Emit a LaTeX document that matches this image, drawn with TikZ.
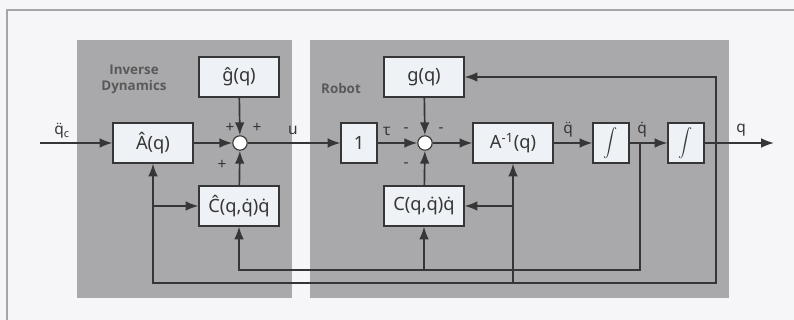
\documentclass[tikz,border=0pt]{standalone}
\usepackage{fontspec}
\setsansfont{Noto Sans}
\newfontfamily\lblfont{Open Sans}
\usetikzlibrary{positioning,arrows.meta,calc}

\definecolor{panelgray}{HTML}{A9A9AB}
\definecolor{boxfill}{HTML}{EEF2F6}
\definecolor{linegray}{HTML}{363636}
\definecolor{pagebg}{HTML}{F6F6F8}

\begin{document}
\begin{tikzpicture}[
  x=0.025cm, y=-0.025cm,
  font=\sffamily\fontsize{13}{15}\selectfont,
  every node/.style={align=center, text=linegray},
  blk/.style ={rectangle, draw=linegray, line width=0.8pt, fill=boxfill,
               minimum width=20mm, minimum height=10mm, inner sep=1pt},
  intg/.style={blk, minimum width=9mm},
  sumc/.style={circle, draw=linegray, line width=0.8pt, fill=white,
               minimum size=3.6mm, inner sep=0pt},
  panel/.style={fill=panelgray, draw=none},
  sgn/.style ={inner sep=0pt, font=\sffamily\fontsize{11}{12}\selectfont},
  lbl/.style ={inner sep=0pt, font=\lblfont\bfseries\fontsize{9.5}{11.5}\selectfont, text=black!65},
  arrow/.style={-{Latex[length=3.2mm,width=2.4mm]}, line width=1.2pt, draw=linegray},
]

% page and frame
\fill[pagebg] (0,0) rectangle (794,320);
\useasboundingbox (0,0) rectangle (794,320);
\draw[gray!70, line width=0.8pt] (7,320) -- (7,10) -- (794,10);

% grey panels
\fill[panel] (77,40)  rectangle (292,298);
\fill[panel] (310,40) rectangle (729,298);

% Inverse dynamics blocks
\node[blk]  (ghat) at (239,77)  {ĝ(q)};
\node[blk]  (Ahat) at (153,143) {Â(q)};
\node[sumc] (s1)   at (240,143) {};
\node[blk]  (Chat) at (239,206) {Ĉ(q,\.q)\.q};

% Robot blocks
\node[blk]  (g)    at (424,77)  {g(q)};
\node[intg] (one)  at (359,143) {1};
\node[sumc] (s2)   at (425,143) {};
\node[blk]  (Ainv) at (513,143) {A\textsuperscript{-1}(q)};
\node[blk]  (C)    at (424,206) {C(q,\.q)\.q};
\node[intg] (i1)   at (611,143) {$\displaystyle\int$};
\node[intg] (i2)   at (686,143) {$\displaystyle\int$};

% free ends and branch points
\coordinate (in)   at (40,143);
\coordinate (out)  at (774,143);
\coordinate (jq)   at (716,143);
\coordinate (jqd)  at (640,143);
\coordinate (qlo)  at (716,283);
\coordinate (qdlo) at (640,270);

% forward path
\draw[arrow] (in)   -- (Ahat);
\draw[arrow] (Ahat) -- (s1);
\draw[arrow] (ghat) -- (s1);
\draw[arrow] (Chat) -- (s1);
\draw[arrow] (s1)   -- (one);
\draw[arrow] (one)  -- (s2);
\draw[arrow] (g)    -- (s2);
\draw[arrow] (C)    -- (s2);
\draw[arrow] (s2)   -- (Ainv);
\draw[arrow] (Ainv) -- (i1);
\draw[arrow] (i1)   -- (i2);
\draw[arrow] (i2)   -- (out);

% feedback of q
\draw[arrow] (jq) |- (g.east);
\draw[arrow] (jq) -- (qlo) -| (Ahat.south);
\draw[arrow] (Ahat.south |- Chat.west) -- (Chat.west);
\draw[arrow] (Ainv.south |- qlo) -- (Ainv.south);
\draw[arrow] (Ainv.south |- C.east) -- (C.east);

% feedback of q-dot
\draw[arrow] (jqd) -- (qdlo) -| (Chat.south);
\draw[arrow] (C.south |- qdlo) -- (C.south);

% -------- labels ----------------------------------------------------------
\node[lbl] (tid) at (134,79) {Inverse\\Dynamics};
\node[lbl] (trb) at (341,88) {Robot};
\node[sgn] (lqc) at (62,131)  {\"q\textsubscript{c}};
\node[sgn] (lu)  at (293,130) {u};
\node[sgn] (ltau) at (387,131) {τ};
\node[sgn] (lqdd) at (568,130) {\"q};
\node[sgn] (lqd)  at (642,130) {\.q};
\node[sgn] (lq)   at (741,130) {q};

% signs at the summing points
\node[sgn] (p1) at (230,128) {+};
\node[sgn] (p2) at (257,128) {+};
\node[sgn] (p3) at (222,165) {+};
\node[sgn] (m1) at (406,130) {-};
\node[sgn] (m2) at (441,130) {-};
\node[sgn] (m3) at (406,165) {-};

\end{tikzpicture}
\end{document}
